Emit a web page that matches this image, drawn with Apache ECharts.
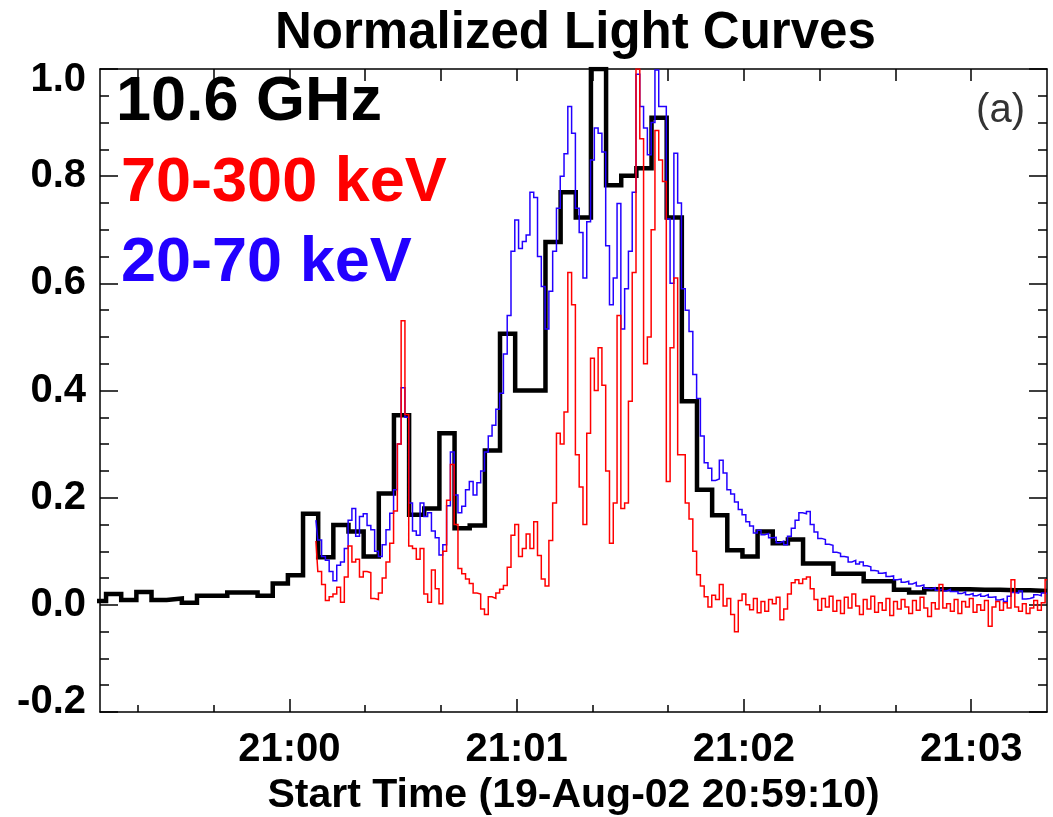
<!DOCTYPE html>
<html>
<head>
<meta charset="utf-8">
<script src="https://cdn.jsdelivr.net/npm/echarts@6/dist/echarts.min.js"></script>
<style>
html,body{margin:0;padding:0;background:#fff;}
#chart{width:1053px;height:817px;}
</style>
</head>
<body>
<div id="chart"></div>
<script>
// ---------------- data ----------------
// time axis: seconds after 20:59:10
const X_TICK_VALUES = [50, 110, 170, 230];
const X_TICK_LABELS = ['21:00', '21:01', '21:02', '21:03'];
const X_MINOR_TICKS = [10, 30, 70, 90, 130, 150, 190, 210];
const X_TOP_TICKS = [10, 30, 50, 70, 90, 110, 130, 150, 170, 190, 210, 230];

const LEGEND_LABELS = ['10.6 GHz', '70-300 keV', '20-70 keV'];
const LEGEND_COLORS = ['#000000', '#ff0000', '#2200ff'];

// 10.6 GHz radio, 4 s bins (bin start times)
const GHZ_BIN_START = -2.4;
const GHZ_BIN_WIDTH = 4;
const GHZ_VALUES = [
  0.007, 0.020, 0.009, 0.024, 0.009, 0.012, 0.004, 0.017, 0.017, 0.023,
  0.023, 0.017, 0.040, 0.055, 0.170, 0.089, 0.149, 0.137, 0.090, 0.208,
  0.354, 0.168, 0.180, 0.320, 0.143, 0.148, 0.288, 0.506, 0.400, 0.400,
  0.677, 0.770, 0.723, 1.000, 0.783, 0.801, 0.815, 0.909, 0.723, 0.380,
  0.215, 0.167, 0.102, 0.090, 0.137, 0.115, 0.122, 0.077, 0.077, 0.058,
  0.058, 0.044, 0.044, 0.028, 0.023, 0.029, 0.029, 0.029, 0.028, 0.028,
  0.027, 0.027, 0.026
];

// hard X-ray curves, 1 s samples starting at t = 57 s
const HXR_START = 57;
const HXR_STEP = 1;
const HXR_20_70 = [
  0.158, 0.121, 0.090, 0.083, 0.062, 0.045, 0.074, 0.080, 0.105, 0.158,
  0.180, 0.128, 0.165, 0.170, 0.148, 0.140, 0.100, 0.090, 0.112, 0.140,
  0.171, 0.215, 0.300, 0.405, 0.350, 0.190, 0.138, 0.130, 0.190, 0.165,
  0.172, 0.138, 0.125, 0.093, 0.112, 0.185, 0.285, 0.205, 0.172, 0.184,
  0.215, 0.230, 0.205, 0.228, 0.250, 0.285, 0.315, 0.335, 0.365, 0.395,
  0.468, 0.540, 0.660, 0.718, 0.665, 0.678, 0.690, 0.770, 0.760, 0.650,
  0.594, 0.515, 0.585, 0.660, 0.740, 0.800, 0.842, 0.930, 0.880, 0.740,
  0.695, 0.610, 0.715, 0.830, 0.890, 0.880, 0.845, 0.670, 0.560, 0.610,
  0.749, 0.515, 0.590, 0.660, 0.770, 0.990, 0.930, 0.890, 0.840, 0.900,
  0.998, 0.930, 0.930, 0.720, 0.600, 0.843, 0.750, 0.590, 0.550, 0.510,
  0.430, 0.385, 0.315, 0.265, 0.255, 0.232, 0.235, 0.270, 0.246, 0.215,
  0.207, 0.192, 0.178, 0.168, 0.155, 0.147, 0.134, 0.139, 0.131, 0.133,
  0.125, 0.126, 0.116, 0.119, 0.112, 0.128, 0.143, 0.158, 0.172, 0.170,
  0.174, 0.150, 0.136, 0.124, 0.122, 0.113, 0.111, 0.098, 0.096, 0.090,
  0.089, 0.080, 0.083, 0.076, 0.080, 0.073, 0.071, 0.064, 0.063, 0.059,
  0.060, 0.053, 0.054, 0.047, 0.048, 0.042, 0.044, 0.039, 0.042, 0.035,
  0.037, 0.031, 0.030, 0.032, 0.027, 0.030, 0.026, 0.029, 0.025, 0.025,
  0.021, 0.024, 0.019, 0.021, 0.017, 0.020, 0.016, 0.019, 0.014, 0.015,
  0.009, 0.011, 0.006, 0.016, 0.023, 0.022, 0.026, 0.011, 0.012, 0.014,
  0.019, 0.017, 0.022, 0.021
];
const HXR_70_300 = [
  0.119, 0.062, 0.038, 0.008, 0.015, 0.020, 0.033, 0.005, 0.052, 0.110,
  0.080, 0.085, 0.052, 0.062, 0.060, 0.012, 0.010, 0.022, 0.050, 0.080,
  0.115, 0.175, 0.300, 0.530, 0.355, 0.110, 0.105, 0.085, 0.105, 0.020,
  0.005, 0.065, 0.030, 0.002, 0.100, 0.195, 0.262, 0.150, 0.068, 0.058,
  0.048, 0.040, 0.022, 0.020, -0.008, -0.018, 0.015, 0.012, 0.022, 0.029,
  0.036, 0.070, 0.130, 0.150, 0.090, 0.105, 0.132, 0.105, 0.155, 0.092,
  0.048, 0.035, 0.120, 0.190, 0.320, 0.300, 0.360, 0.620, 0.560, 0.280,
  0.220, 0.150, 0.320, 0.460, 0.400, 0.480, 0.410, 0.250, 0.115, 0.190,
  0.540, 0.180, 0.190, 0.380, 0.620, 1.000, 0.870, 0.450, 0.500, 0.700,
  0.885, 0.830, 0.790, 0.230, 0.480, 0.610, 0.280, 0.280, 0.190, 0.160,
  0.100, 0.056, 0.035, 0.015, -0.004, 0.018, 0.010, 0.038, -0.002, 0.012,
  -0.018, -0.050, 0.008, 0.020, 0.000, -0.009, 0.012, -0.015, 0.006, -0.012,
  0.010, 0.002, 0.014, -0.028, -0.008, 0.020, 0.041, 0.047, 0.040, 0.048,
  0.052, 0.030, 0.010, -0.010, 0.012, -0.004, 0.016, -0.012, 0.008, -0.016,
  0.014, -0.006, 0.020, -0.002, -0.018, 0.010, -0.008, 0.016, -0.014, 0.004,
  -0.010, 0.012, -0.020, 0.006, -0.008, 0.010, -0.004, -0.016, 0.008, -0.010,
  0.014, -0.006, -0.022, 0.004, -0.008, 0.038, -0.006, 0.002, -0.012, 0.010,
  -0.016, 0.006, -0.004, 0.012, -0.014, 0.000, -0.010, 0.008, -0.040, -0.004,
  0.006, -0.010, 0.004, -0.006, 0.047, -0.004, -0.012, 0.002, -0.016, -0.006,
  0.008, -0.010, 0.004, 0.047
];

// ---------------- build ----------------
const FONT = "'Liberation Sans', Arial, Helvetica, sans-serif";
const X_MAX = 250;

const ghzData = GHZ_VALUES.map((v, k) => [GHZ_BIN_START + k * GHZ_BIN_WIDTH, v]);
ghzData.push([X_MAX, GHZ_VALUES[GHZ_VALUES.length - 1]]);
const lowData = HXR_20_70.map((v, i) => [HXR_START + i * HXR_STEP, v]);
const highData = HXR_70_300.map((v, i) => [HXR_START + i * HXR_STEP, v]);

const axisLineStyle = { color: '#000', width: 1.5 };
const labelFont = { fontFamily: FONT, fontSize: 40, fontWeight: 'bold', color: '#000' };

function yAxisDef(pos, showLabel) {
  return {
    type: 'value', position: pos, min: -0.2, max: 1.0, interval: 0.2,
    axisLine: { show: true, onZero: false, lineStyle: axisLineStyle },
    axisTick: { show: true, inside: true, length: 18, lineStyle: axisLineStyle },
    minorTick: { show: true, splitNumber: 4, length: 9, lineStyle: axisLineStyle },
    splitLine: { show: false },
    minorSplitLine: { show: false },
    axisLabel: {
      show: showLabel, margin: 14, ...labelFont,
      formatter: function (v) {
        const s = v.toFixed(1);
        if (Math.abs(v - 1.0) < 1e-9) return '{hi|' + s + '}';
        if (Math.abs(v + 0.2) < 1e-9) return '{lo|' + s + '}';
        return s;
      },
      rich: {
        hi: { ...labelFont, padding: [22, 0, 0, 0] },
        lo: { ...labelFont, padding: [0, 0, 20, 0] }
      }
    }
  };
}

const option = {
  animation: false,
  backgroundColor: '#ffffff',
  title: {
    text: 'Normalized Light Curves', left: 275, top: 8, padding: 0,
    textStyle: { fontFamily: FONT, fontSize: 51, fontWeight: 'bold', color: '#000' }
  },
  grid: { left: 100, right: 6, top: 69, bottom: 105, containLabel: false, outerBoundsMode: 'none' },
  xAxis: [
    {
      type: 'value', position: 'bottom', min: 0, max: X_MAX,
      axisLine: { show: true, onZero: false, lineStyle: axisLineStyle },
      axisTick: { show: true, inside: true, length: 13, customValues: X_TICK_VALUES, lineStyle: axisLineStyle },
      axisLabel: {
        show: true, customValues: X_TICK_VALUES, margin: 18, ...labelFont,
        formatter: function (v) {
          const i = X_TICK_VALUES.indexOf(Math.round(v));
          return i >= 0 ? X_TICK_LABELS[i] : '';
        }
      },
      splitLine: { show: false },
      name: 'Start Time (19-Aug-02 20:59:10)', nameLocation: 'middle', nameGap: 62,
      nameTextStyle: { fontFamily: FONT, fontSize: 41, fontWeight: 'bold', color: '#000' }
    },
    {
      type: 'value', position: 'bottom', min: 0, max: X_MAX,
      axisLine: { show: false, onZero: false },
      axisTick: { show: true, inside: true, length: 7, customValues: X_MINOR_TICKS, lineStyle: axisLineStyle },
      axisLabel: { show: false },
      splitLine: { show: false }
    },
    {
      type: 'value', position: 'top', min: 0, max: X_MAX,
      axisLine: { show: true, onZero: false, lineStyle: axisLineStyle },
      axisTick: { show: true, inside: true, length: 12, customValues: X_TOP_TICKS, lineStyle: axisLineStyle },
      axisLabel: { show: false },
      splitLine: { show: false }
    }
  ],
  yAxis: [yAxisDef('left', true), yAxisDef('right', false)],
  series: [
    {
      name: LEGEND_LABELS[0], type: 'line', step: 'end', data: ghzData,
      xAxisIndex: 0, yAxisIndex: 0, showSymbol: false, symbol: 'none', silent: true, z: 2,
      lineStyle: { color: LEGEND_COLORS[0], width: 4.5, join: 'miter', cap: 'butt' }
    },
    {
      name: LEGEND_LABELS[2], type: 'line', step: 'middle', data: lowData,
      xAxisIndex: 0, yAxisIndex: 0, showSymbol: false, symbol: 'none', silent: true, z: 3,
      lineStyle: { color: LEGEND_COLORS[2], width: 1.5, join: 'miter' }
    },
    {
      name: LEGEND_LABELS[1], type: 'line', step: 'middle', data: highData,
      xAxisIndex: 0, yAxisIndex: 0, showSymbol: false, symbol: 'none', silent: true, z: 4,
      lineStyle: { color: LEGEND_COLORS[1], width: 1.5, join: 'miter' }
    }
  ],
  graphic: [
    { type: 'text', x: 116, y: 103, silent: true,
      style: { text: LEGEND_LABELS[0], fill: LEGEND_COLORS[0], fontFamily: FONT, fontSize: 63, fontWeight: 'bold', align: 'left', verticalAlign: 'middle' } },
    { type: 'text', x: 121, y: 184, silent: true,
      style: { text: LEGEND_LABELS[1], fill: LEGEND_COLORS[1], fontFamily: FONT, fontSize: 63, fontWeight: 'bold', align: 'left', verticalAlign: 'middle' } },
    { type: 'text', x: 121, y: 264, silent: true,
      style: { text: LEGEND_LABELS[2], fill: LEGEND_COLORS[2], fontFamily: FONT, fontSize: 63, fontWeight: 'bold', align: 'left', verticalAlign: 'middle' } },
    { type: 'text', x: 1025, y: 111, silent: true,
      style: { text: '(a)', fill: '#333333', fontFamily: FONT, fontSize: 40, fontWeight: 'normal', align: 'right', verticalAlign: 'middle' } }
  ]
};

const chart = echarts.init(document.getElementById('chart'), null, { renderer: 'canvas' });
chart.setOption(option);
</script>
</body>
</html>
